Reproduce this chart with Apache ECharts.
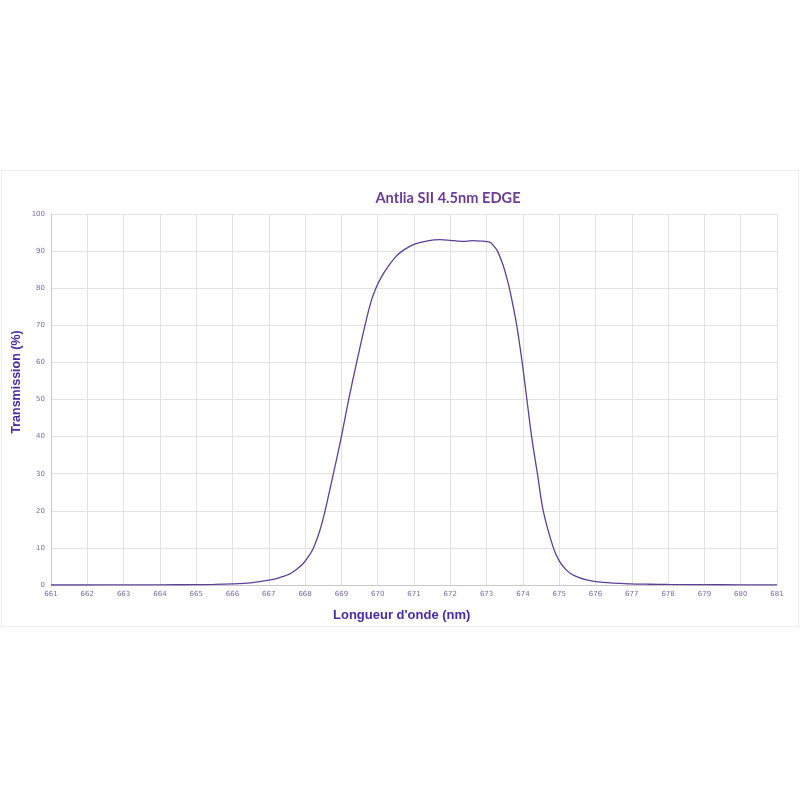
<!DOCTYPE html>
<html>
<head>
<meta charset="utf-8">
<script src="https://cdn.jsdelivr.net/npm/echarts@6/dist/echarts.min.js"></script>
<style>
html,body{margin:0;padding:0;background:#fff;}
#c{width:800px;height:800px;}
</style>
</head>
<body>
<div id="c"></div>
<script>
const wavelengths = [661, 662, 663, 664, 665, 665.5, 666, 666.5, 667, 667.3, 667.6, 667.9, 668.1, 668.23, 668.4, 668.55, 668.78, 669.0, 669.2, 669.42, 669.65, 669.82, 669.95, 670.1, 670.3, 670.5, 670.7, 671, 671.34, 671.72, 672, 672.2, 672.36, 672.6, 672.85, 673.09, 673.18, 673.3, 673.45, 673.55, 673.64, 673.83, 673.98, 674.11, 674.24, 674.4, 674.56, 674.84, 675.0, 675.2, 675.4, 675.75, 676.2, 676.95, 677.5, 678, 679, 680, 681];
const transmission = [0, 0, 0.02, 0.05, 0.1, 0.15, 0.3, 0.6, 1.3, 2.0, 3.1, 5.3, 7.8, 10, 14.5, 20, 30, 40, 50, 60, 70, 76.5, 80, 83, 86, 88.5, 90.2, 91.8, 92.7, 93.1, 92.9, 92.7, 92.6, 92.8, 92.7, 92.4, 91.6, 90, 86.3, 83, 79.5, 70, 60, 50, 40, 30, 20, 10, 6.5, 4.0, 2.6, 1.4, 0.7, 0.3, 0.2, 0.15, 0.08, 0.05, 0.03];
const titleText = "Antlia SII 4.5nm EDGE";
const xName = "Longueur d'onde (nm)";
const yName = "Transmission (%)";

const chart = echarts.init(document.getElementById('c'));
chart.setOption({
  animation: false,
  backgroundColor: '#ffffff',
  title: {
    text: titleText,
    left: 443, top: 186, textAlign: 'center',
    textStyle: { fontFamily: 'Lato', fontWeight: 'bold', fontSize: 14.6, color: '#6b3b96' }
  },
  grid: { left: 51, right: 23, top: 214, bottom: 215 },
  xAxis: {
    type: 'value', min: 661, max: 681, interval: 1,
    axisLine: { lineStyle: { color: '#c8c8c8', width: 1 } },
    axisTick: { show: false },
    axisLabel: { fontSize: 7, color: '#7a6aa6', margin: 6, fontFamily: 'DejaVu Sans' },
    splitLine: { show: true, lineStyle: { color: '#e2e2e2', width: 1 } }
  },
  yAxis: {
    type: 'value', min: 0, max: 100, interval: 10,
    axisLine: { show: true, lineStyle: { color: '#c8c8c8', width: 1 } },
    axisTick: { show: false },
    axisLabel: { fontSize: 7, color: '#7a6aa6', margin: 6, fontFamily: 'DejaVu Sans' },
    splitLine: { show: true, lineStyle: { color: '#e2e2e2', width: 1 } }
  },
  graphic: [
    { type: 'text', left: 333, top: 609,
      style: { text: xName, font: 'bold 13px "Liberation Sans"', fill: '#4a2aa5' } },
    { type: 'text', x: 17, y: 382, rotation: Math.PI / 2,
      style: { text: yName, font: 'bold 12.5px "Liberation Sans"', fill: '#4a2aa5', align: 'center', verticalAlign: 'middle' } },
    { type: 'rect', shape: { x: 1.5, y: 170.5, width: 797, height: 456 },
      style: { fill: 'none', stroke: '#ececec', lineWidth: 1 }, z: -1 }
  ],
  series: [{
    type: 'line',
    data: wavelengths.map((w, i) => [w, transmission[i]]),
    showSymbol: false,
    smooth: 0.3,
    lineStyle: { color: '#5e3f96', width: 1.3 }
  }]
});
</script>
</body>
</html>
